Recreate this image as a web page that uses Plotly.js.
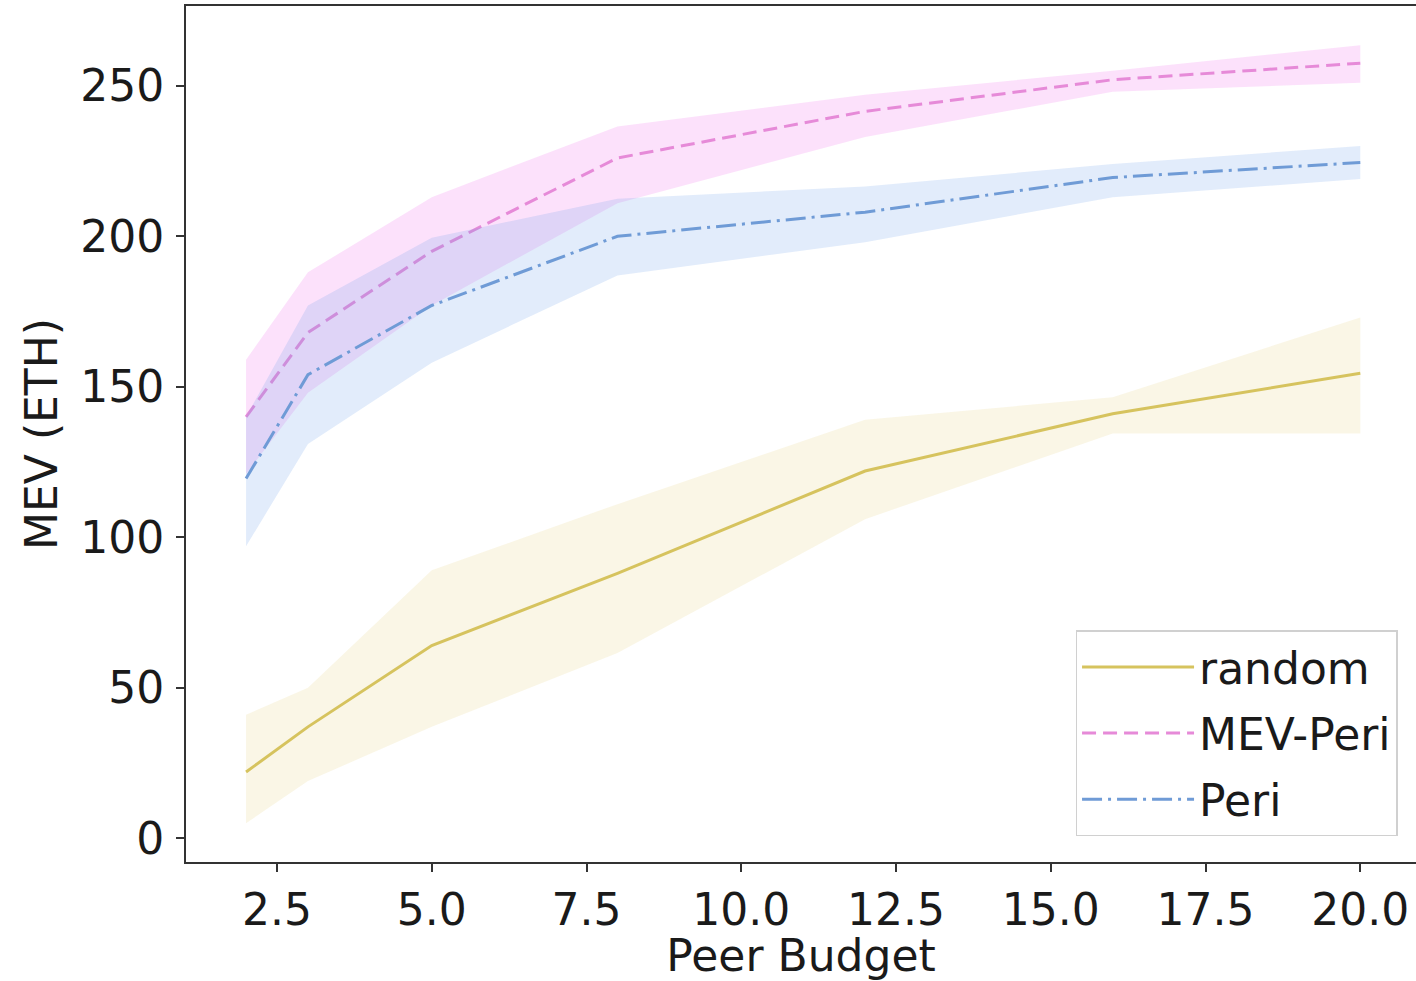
<!DOCTYPE html>
<html>
<head>
<meta charset="utf-8">
<script src="https://cdn.plot.ly/plotly-3.0.1.min.js"></script>
<style>
  html, body { margin: 0; padding: 0; background: #ffffff; }
  #chart { width: 1416px; height: 981px; }
</style>
</head>
<body>
<div id="chart"></div>
<script>
// Peer budget values (x)
const peerBudget = [2, 3, 5, 8, 12, 16, 20];

// random
const randomMean = [22, 37, 64, 88, 122, 141, 154.5];
const randomLow  = [5, 19, 37, 61.5, 106, 134.5, 134.5];
const randomHigh = [41, 50, 89, 111, 139, 146.5, 173];

// MEV-Peri
const mevPeriMean = [140, 168, 195, 226, 241.5, 252, 257.5];
const mevPeriLow  = [121, 148, 177, 211, 233, 248, 251];
const mevPeriHigh = [159, 188, 213, 236.5, 247, 255, 263.5];

// Peri
const periMean = [119.5, 154, 177, 200, 208, 219.5, 224.5];
const periLow  = [97, 131, 158, 187, 198, 213, 219];
const periHigh = [140, 177, 199.5, 212.5, 216.5, 224, 230];

const seriesNames = ['random', 'MEV-Peri', 'Peri'];

const FONT = 'DejaVu Sans, sans-serif';
const FS = 44;

function band(lo, hi, fill) {
  return [
    { x: peerBudget, y: lo, type: 'scatter', mode: 'lines',
      line: { width: 0, color: 'rgba(0,0,0,0)' }, showlegend: false, hoverinfo: 'skip' },
    { x: peerBudget, y: hi, type: 'scatter', mode: 'lines', fill: 'tonexty',
      fillcolor: fill, line: { width: 0, color: 'rgba(0,0,0,0)' }, showlegend: false, hoverinfo: 'skip' }
  ];
}

const traces = [
  ...band(randomLow, randomHigh, 'rgba(226,200,100,0.16)'),
  { x: peerBudget, y: randomMean, type: 'scatter', mode: 'lines', name: seriesNames[0],
    legendgroup: 'a', line: { color: '#d6c35e', width: 3 } },
  ...band(mevPeriLow, mevPeriHigh, 'rgba(240,120,235,0.22)'),
  { x: peerBudget, y: mevPeriMean, type: 'scatter', mode: 'lines', name: seriesNames[1],
    legendgroup: 'b', line: { color: '#e68ad8', width: 3, dash: '14px,7px' } },
  ...band(periLow, periHigh, 'rgba(110,160,235,0.2)'),
  { x: peerBudget, y: periMean, type: 'scatter', mode: 'lines', name: seriesNames[2],
    legendgroup: 'c', line: { color: '#6f9bd6', width: 3, dash: '20px,6px,3px,6px' } }
];

const layout = {
  width: 1416, height: 981,
  margin: { l: 186, r: 0, t: 6, b: 119 },
  paper_bgcolor: '#ffffff', plot_bgcolor: '#ffffff',
  font: { family: FONT, size: FS, color: '#1a1a1a' },
  showlegend: true,
  legend: {
    x: 0.985, xanchor: 'right', y: 0.03, yanchor: 'bottom',
    bgcolor: 'rgba(255,255,255,0.9)', bordercolor: '#d0d0d0', borderwidth: 1.5,
    font: { family: FONT, size: FS, color: '#1a1a1a' },
    tracegroupgap: 6, itemwidth: 112
  },
  xaxis: {
    range: [1.03, 20.9],
    tickmode: 'linear', tick0: 0, dtick: 2.5, tickformat: '.1f',
    ticks: 'outside', ticklen: 8, tickwidth: 2, tickcolor: '#333',
    showline: true, linecolor: '#333', linewidth: 2, mirror: true,
    showgrid: false, zeroline: false,
    tickfont: { family: FONT, size: FS, color: '#1a1a1a' },
    title: { text: 'Peer Budget', font: { family: FONT, size: FS, color: '#1a1a1a' }, standoff: 2 }
  },
  yaxis: {
    range: [-7.9, 276.5],
    tickmode: 'linear', tick0: 0, dtick: 50,
    ticks: 'outside', ticklen: 8, tickwidth: 2, tickcolor: '#333',
    showline: true, linecolor: '#333', linewidth: 2,
    showgrid: false, zeroline: false, ticklabelstandoff: 3,
    tickfont: { family: FONT, size: FS, color: '#1a1a1a' },
    title: { text: 'MEV (ETH)', font: { family: FONT, size: FS, color: '#1a1a1a' }, standoff: 9 }
  }
};

Plotly.newPlot('chart', traces, layout, { staticPlot: true, displayModeBar: false });
</script>
</body>
</html>
